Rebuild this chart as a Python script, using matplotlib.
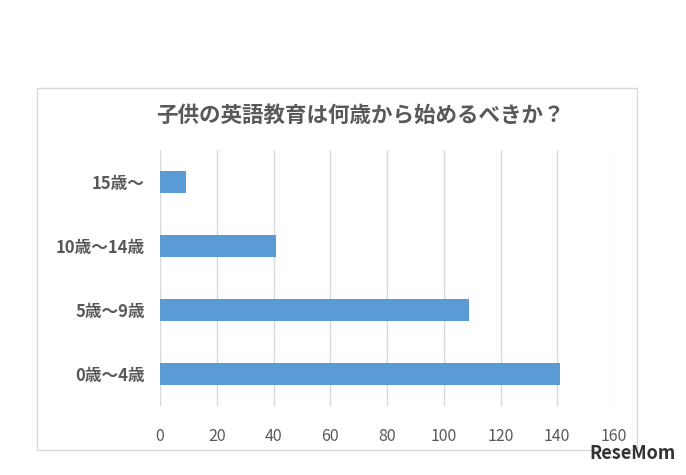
import matplotlib
matplotlib.use("Agg")
import matplotlib.pyplot as plt
from matplotlib.patches import Rectangle

plt.rcParams['font.family'] = ['Noto Sans CJK JP', 'DejaVu Sans']

categories = ["0歳～4歳", "5歳～9歳", "10歳～14歳", "15歳～"]
values = [141, 109, 41, 9]
xticks = [0, 20, 40, 60, 80, 100, 120, 140, 160]

fig = plt.figure(figsize=(6.86, 4.75), dpi=100)
fig.patches.append(Rectangle((37/686, 1-450/475), 600/686, 362/475, transform=fig.transFigure,
                             fill=False, edgecolor="#D9D9D9", lw=1))
ax = fig.add_axes([160/686, 1-406/475, 454/686, 256/475])
ax.barh(range(len(categories)), values, height=0.34, color="#5B9BD5", zorder=3)
ax.set_xlim(0, 160)
ax.set_ylim(-0.5, 3.5)
ax.set_xticks(xticks)
ax.set_yticks(range(len(categories)))
ax.set_yticklabels(categories, fontsize=12, fontweight='bold', color="#595959")
ax.tick_params(axis='x', labelsize=11.5, colors="#595959", length=0, pad=16)
ax.tick_params(axis='y', length=0, pad=11)
ax.grid(axis='x', color="#D9D9D9", lw=1, zorder=0)
for s in ax.spines.values():
    s.set_visible(False)
fig.text(0.525, 1-115/475, "子供の英語教育は何歳から始めるべきか？", ha='center', va='center',
         fontsize=15.5, fontweight='bold', color="#595959")
fig.text(0.985, 0.025, "ReseMom", ha='right', va='bottom', fontsize=13, fontweight='bold', color="#333333")
fig.savefig("out.png", dpi=100)
